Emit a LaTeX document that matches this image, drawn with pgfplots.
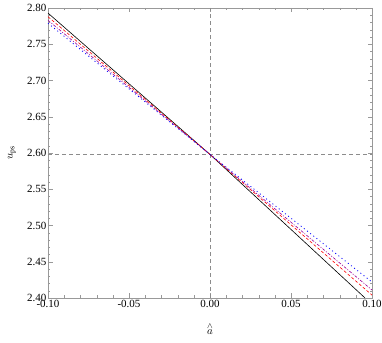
\documentclass[border=0pt]{standalone}
\usepackage{pgfplots}
\pgfplotsset{compat=1.18}
\usepackage{fontspec}
\setmainfont{Liberation Serif}
\begin{document}
\begin{tikzpicture}
\begin{axis}[
  name=ax,
  width=324pt, height=290pt, scale only axis,
  xmin=-0.1, xmax=0.1, ymin=2.4, ymax=2.8,
  xtick={-0.1,-0.05,0,0.05,0.1},
  ytick={2.4,2.45,2.5,2.55,2.6,2.65,2.7,2.75,2.8},
  minor x tick num=4, minor y tick num=4,
  xticklabel style={/pgf/number format/.cd,fixed,fixed zerofill,precision=2},
  yticklabel style={/pgf/number format/.cd,fixed,fixed zerofill,precision=2},
  /pgf/number format/assume math mode=true,
  tick align=inside,
  axis line style={gray!80},
  tick style={gray!80},
  major tick length=4.5pt, minor tick length=2.5pt,
  ticklabel style={font=\fontsize{11}{12}\selectfont, inner sep=1.5pt},
  xlabel={$\stackrel{\wedge}{a}$},
  ylabel={$u_{\mathrm{ps}}$},
  ylabel style={font=\fontsize{11}{12}\selectfont, at={(axis description cs:0,0.5)}, anchor=center, yshift=36pt},
  xlabel style={font=\fontsize{11}{12}\selectfont, at={(axis description cs:0.5,0)}, anchor=center, yshift=-31pt},
]
\addplot[gray!90, dash pattern=on 4pt off 3pt, forget plot] coordinates {(0,2.4) (0,2.8)};
\addplot[gray!90, dash pattern=on 4pt off 3pt, forget plot] coordinates {(-0.1,2.598) (0.1,2.598)};
\addplot[black, line width=0.6pt] coordinates {(-0.1,2.793) (0,2.598) (0.0957,2.4)};
\addplot[red, line width=0.6pt, dash pattern=on 3pt off 2pt] coordinates {(-0.1,2.788) (0,2.598) (0.1,2.404)};
\addplot[violet!80!magenta, line width=0.6pt, dash pattern=on 3pt off 1.5pt on 1pt off 1.5pt] coordinates {(-0.1,2.783) (0,2.598) (0.1,2.411)};
\addplot[blue, line width=0.8pt, dash pattern=on 1pt off 3pt] coordinates {(-0.1,2.779) (0,2.598) (0.1,2.422)};
\end{axis}
\pgfresetboundingbox
\path ([shift={(-48pt,-44pt)}]ax.south west) rectangle ([shift={(10pt,8pt)}]ax.north east);
\end{tikzpicture}
\end{document}
